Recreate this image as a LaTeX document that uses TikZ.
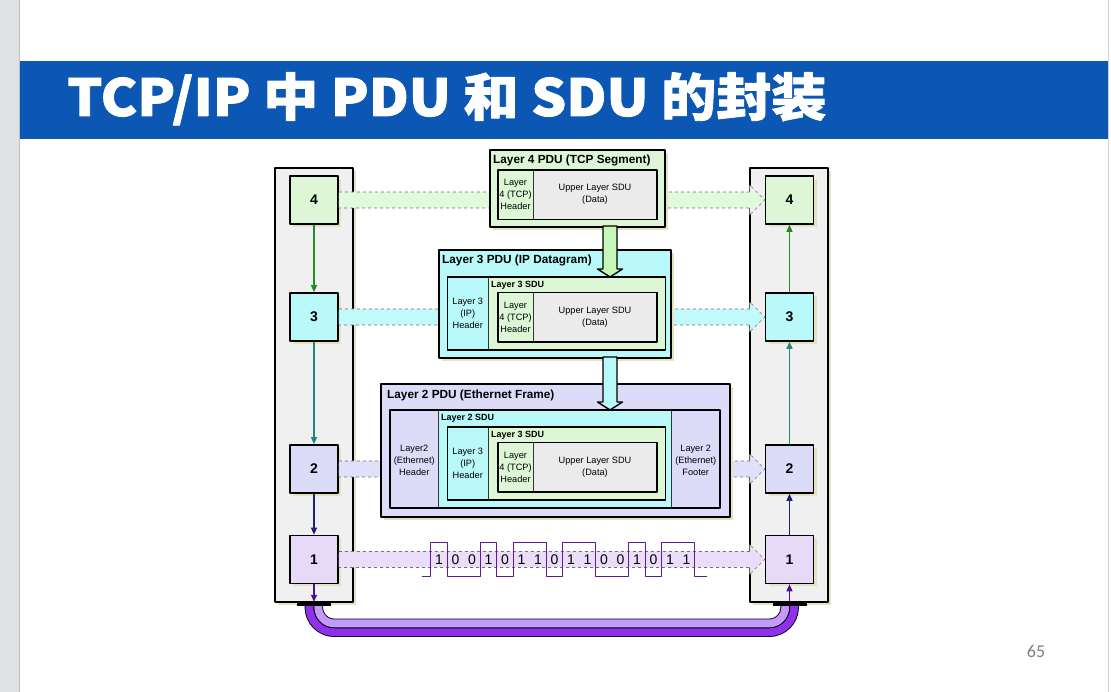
\documentclass[tikz,border=0pt]{standalone}
\usepackage{fontspec}
\newfontfamily\cjk{Noto Sans CJK SC}[BoldFeatures={FakeStretch=1.08,FakeBold=1.6}]
\newfontfamily\arial{Liberation Sans}
\newfontfamily\carlito{Carlito}
\usetikzlibrary{arrows.meta,shadows}

\definecolor{slideblue}{HTML}{0C57B3}
\definecolor{sidegray}{HTML}{DFE2E4}
\definecolor{pagegray}{HTML}{7F7F86}
\definecolor{lfour}{HTML}{DDF7D6}
\definecolor{lthree}{HTML}{B9F9F9}
\definecolor{ltwo}{HTML}{DCDCF9}
\definecolor{lone}{HTML}{E7DAF9}
\definecolor{bfour}{HTML}{E2FADC}
\definecolor{bthree}{HTML}{C2FAFA}
\definecolor{btwo}{HTML}{E0E0FA}
\definecolor{bone}{HTML}{E9DDFA}
\definecolor{datagray}{HTML}{EBEBEB}
\definecolor{panelgray}{HTML}{F0F0F0}
\definecolor{shade}{HTML}{E4E2C0}
\definecolor{greenarr}{HTML}{228B22}
\definecolor{tealarr}{HTML}{1F8585}
\definecolor{navyarr}{HTML}{1F1F80}
\definecolor{purparr}{HTML}{50108C}
\definecolor{wavec}{HTML}{5C1E8E}
\definecolor{tubelight}{HTML}{C39AF9}
\definecolor{tubedark}{HTML}{8E30EC}
\definecolor{blockfour}{HTML}{C4F7B8}

\tikzset{
  shadowed/.style={drop shadow={shadow xshift=3pt,shadow yshift=-3pt,fill=shade,opacity=1}},
  panel/.style={draw=black,line width=1.2pt,fill=panelgray,shadowed},
  layerbox/.style={draw=black,line width=1.6pt,minimum size=48pt,inner sep=0pt,shadowed,
    font=\arial\bfseries\fontsize{14}{14}\selectfont},
  pdu/.style={draw=black,line width=1.8pt,shadowed},
  seg/.style={draw=black,line width=1.6pt},
  split/.style={draw=black!80,line width=0.7pt},
  small/.style={font=\arial\fontsize{9.2}{12}\selectfont,align=center,inner sep=0pt},
  sdulabel/.style={font=\arial\bfseries\fontsize{9}{10}\selectfont,anchor=west,inner sep=0pt},
  pdutitle/.style={font=\arial\bfseries\fontsize{11.8}{13}\selectfont,anchor=west,inner sep=0pt},
  band/.style={draw=black!55,dashed,line width=0.6pt},
  blockarr/.style={draw=black,line width=1.4pt},
  bar/.style={fill=black,minimum width=34pt,minimum height=4pt,inner sep=0pt},
  bitnum/.style={font=\arial\fontsize{14}{14}\selectfont,inner sep=0pt},
  stackarr/.style={->,line width=1.3pt},
}

% TCP segment: header + data, #1 = name, #2 = bottom
\newcommand{\tcpseg}[2]{%
  \fill[datagray] (498,#2) rectangle (657,#2+49.5);
  \fill[lfour] (498,#2) rectangle (533,#2+49.5);
  \draw[split] (533,#2) -- (533,#2+49.5);
  \draw[seg] (498,#2) rectangle (657,#2+49.5);
  \node[small] (#1h) at (515.5,#2+24.75) {Layer\\4 (TCP)\\Header};
  \node[small] (#1d) at (595,#2+24.75) {Upper Layer SDU\\(Data)};
}
% IP datagram: header + layer 3 SDU, #1 = name, #2 = bottom
\newcommand{\ipseg}[2]{%
  \fill[lthree] (447.5,#2) rectangle (665.5,#2+73);
  \fill[lfour] (488,#2) rectangle (665.5,#2+73);
  \draw[split] (488,#2) -- (488,#2+73);
  \draw[seg] (447.5,#2) rectangle (665.5,#2+73);
  \node[small] (#1h) at (467.75,#2+37) {Layer 3\\(IP)\\Header};
  \node[sdulabel] (#1s) at (491,#2+65) {Layer 3 SDU};
  \tcpseg{#1t}{#2+8}
}

\begin{document}
\begin{tikzpicture}[x=1pt,y=1pt,>={Triangle[length=7pt,width=6pt]},line join=round]
\useasboundingbox (0,0) rectangle (1111,692);
\fill[white] (0,0) rectangle (1111,692);

% slide frame
\fill[sidegray] (0,0) rectangle (20,692);
\draw[black!25,line width=0.8pt] (19.6,0) -- (19.6,692);
\draw[black!18,line width=1pt] (1108.5,0) -- (1108.5,692);
\fill[slideblue] (20,553) rectangle (1108,631);
\node[anchor=base west,text=white,inner sep=0pt,font=\cjk\bfseries\fontsize{51}{51}\selectfont]
  (title) at (67,576) {TCP/IP 中 PDU 和 SDU 的封装};
\node[text=pagegray,font=\carlito\fontsize{18}{18}\selectfont] (pagenum) at (1036,41) {65};

% stacks
\draw[panel] (275,90) rectangle (353,524);
\draw[panel] (750,90) rectangle (828,524);

% cable
\draw[line width=9.6pt,black,rounded corners=25pt] (309.4,88) -- (309.4,59.8) -- (794.1,59.8) -- (794.1,88);
\draw[line width=7.8pt,tubedark,rounded corners=25pt] (309.4,88) -- (309.4,59.8) -- (794.1,59.8) -- (794.1,88);
\draw[line width=9.6pt,black,rounded corners=16pt] (318.3,88) -- (318.3,68.6) -- (785.2,68.6) -- (785.2,88);
\draw[line width=7.8pt,tubelight,rounded corners=16pt] (318.3,88) -- (318.3,68.6) -- (785.2,68.6) -- (785.2,88);
\node[bar] (lbar) at (314,88) {};
\node[bar] (rbar) at (789.5,88) {};

% layer boxes
\node[layerbox,fill=lfour] (l4) at (314,492) {4};
\node[layerbox,fill=lthree] (l3) at (314,375) {3};
\node[layerbox,fill=ltwo] (l2) at (314,223) {2};
\node[layerbox,fill=lone] (l1) at (314,132.5) {1};
\node[layerbox,fill=lfour] (r4) at (789.5,492) {4};
\node[layerbox,fill=lthree] (r3) at (789.5,375) {3};
\node[layerbox,fill=ltwo] (r2) at (789.5,223) {2};
\node[layerbox,fill=lone] (r1) at (789.5,132.5) {1};

% peer bands
\draw[band,fill=bfour] ([yshift=8pt]l4.east) -- ([xshift=-15pt,yshift=8pt]r4.west) -- ++(0,7)
  -- (r4.west) -- ++(-15,-15) -- ++(0,7) -- ([yshift=-8pt]l4.east) -- cycle;
\draw[band,fill=bthree] ([yshift=8pt]l3.east) -- ([xshift=-15pt,yshift=8pt]r3.west) -- ++(0,7)
  -- (r3.west) -- ++(-15,-15) -- ++(0,7) -- ([yshift=-8pt]l3.east) -- cycle;
\draw[band,fill=btwo] ([yshift=8pt]l2.east) -- ([xshift=-15pt,yshift=8pt]r2.west) -- ++(0,7)
  -- (r2.west) -- ++(-15,-15) -- ++(0,7) -- ([yshift=-8pt]l2.east) -- cycle;
\draw[band,fill=bone] ([yshift=8pt]l1.east) -- ([xshift=-15pt,yshift=8pt]r1.west) -- ++(0,7)
  -- (r1.west) -- ++(-15,-15) -- ++(0,7) -- ([yshift=-8pt]l1.east) -- cycle;

% down and up the stacks
\draw[stackarr,greenarr] (l4) -- (l3);
\draw[stackarr,tealarr] (l3) -- (l2);
\draw[stackarr,navyarr] (l2) -- (l1);
\draw[stackarr,purparr] (l1) -- (lbar);
\draw[stackarr,purparr] (rbar) -- (r1);
\draw[stackarr,navyarr] (r1) -- (r2);
\draw[stackarr,tealarr] (r2) -- (r3);
\draw[stackarr,greenarr] (r3) -- (r4);

% layer 4 PDU
\draw[pdu,fill=lfour] (490,465) rectangle (665,542);
\node[pdutitle] (t4) at (493,532) {Layer 4 PDU (TCP Segment)};
\tcpseg{p4}{472.5}

% layer 3 PDU
\draw[pdu,fill=lthree] (439,334) rectangle (671,442);
\node[pdutitle] (t3) at (442,432) {Layer 3 PDU (IP Datagram)};
\ipseg{p3}{342}

% layer 2 PDU
\draw[pdu,fill=ltwo] (381,175) rectangle (730,308);
\node[pdutitle] (t2) at (387,297) {Layer 2 PDU (Ethernet Frame)};
\fill[ltwo] (390,184) rectangle (720,282);
\fill[lthree] (438.5,184) rectangle (671.5,282);
\draw[split] (438.5,184) -- (438.5,282);
\draw[split] (671.5,184) -- (671.5,282);
\draw[seg] (390,184) rectangle (720,282);
\node[small] (eh) at (414.25,232) {Layer2\\(Ethernet)\\Header};
\node[small] (ef) at (695.75,232) {Layer 2\\(Ethernet)\\Footer};
\node[sdulabel] (s2) at (441,274) {Layer 2 SDU};
\ipseg{p2}{192}

% encapsulation arrows
\draw[blockarr,fill=blockfour] (603,466) -- (603,423) -- (597.5,423) -- (610,415)
  -- (622.5,423) -- (617,423) -- (617,466) -- cycle;
\draw[blockarr,fill=lthree] (603,335) -- (603,290) -- (597.5,290) -- (610,282)
  -- (622.5,290) -- (617,290) -- (617,335) -- cycle;

% bit stream
\draw[wavec,line width=1.4pt] (421.7,115.3) -- (430.7,115.3)
  \foreach \b [count=\i] in {1,0,0,1,0,1,1,0,1,1,0,0,1,0,1,1} { |- ({430.7+\i*16.5},{115.3+34*\b}) }
  |- (706.7,115.3);
\foreach \b [count=\i from 0] in {1,0,0,1,0,1,1,0,1,1,0,0,1,0,1,1}
  \node[bitnum] (bit\i) at ({430.7+(\i+0.5)*16.5},132.5) {\b};
\end{tikzpicture}
\end{document}
